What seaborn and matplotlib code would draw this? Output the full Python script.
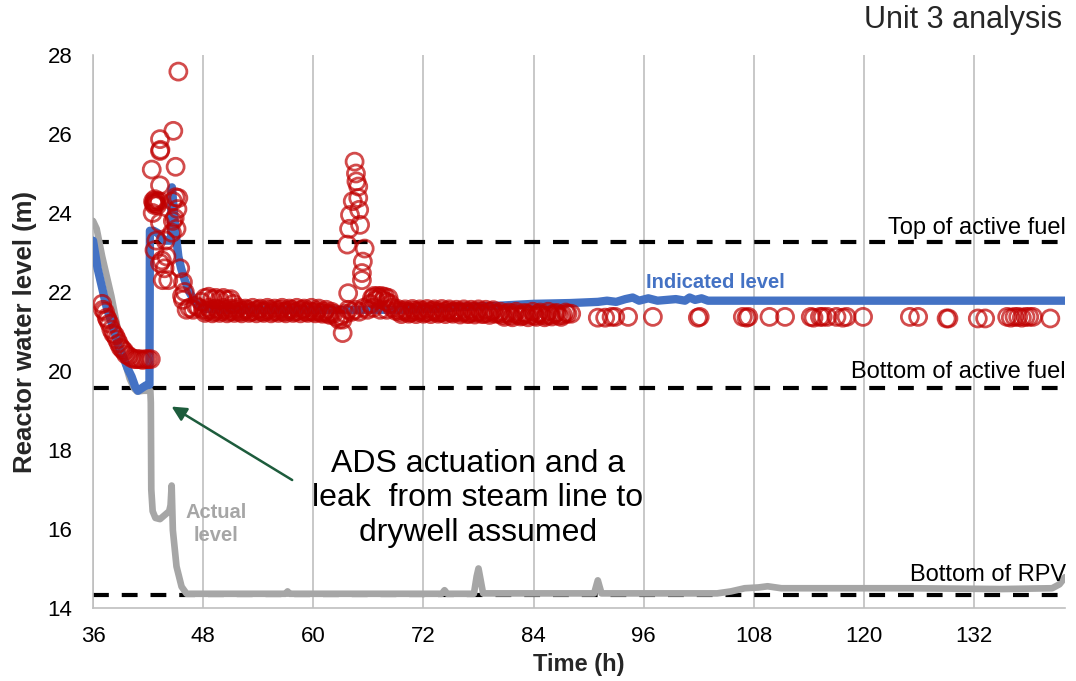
import matplotlib
matplotlib.use("Agg")
import matplotlib.pyplot as plt
import matplotlib.transforms as mtransforms
from matplotlib.ticker import MultipleLocator
import pandas as pd
import seaborn as sns

# ---------------- data ----------------
# Indicated level (blue)
blue_t = [36.0, 36.5, 36.9, 37.5, 38.2, 38.8, 39.3, 39.8, 40.2, 40.6, 40.9, 41.4, 41.8, 42.15,
          42.2, 42.6, 43.0, 43.4, 43.8, 44.2, 44.5, 44.55, 44.6, 44.8, 45.0, 45.3, 45.6, 46.0,
          46.5, 47.0, 47.5, 48.0, 50.0, 55.0, 60.0, 65.0, 70.0, 74.0, 76.0, 80.0, 84.0, 88.0,
          91.0, 92.0, 93.0, 94.0, 94.8, 95.5, 96.5, 97.5, 98.5, 99.5, 100.5, 101.0, 101.6,
          102.3, 103.0, 104.0, 110.0, 120.0, 130.0, 141.9]
blue_y = [23.3, 22.6, 22.2, 21.6, 21.1, 20.6, 20.35, 20.05, 19.86, 19.6, 19.5, 19.58, 19.64, 19.65,
          23.55, 23.55, 23.5, 23.4, 23.3, 23.3, 23.3, 24.6, 24.65, 24.1, 23.5, 22.9, 22.6, 22.3,
          22.0, 21.8, 21.65, 21.58, 21.55, 21.55, 21.55, 21.55, 21.55, 21.58, 21.62, 21.65, 21.7, 21.72,
          21.75, 21.78, 21.75, 21.82, 21.86, 21.78, 21.84, 21.78, 21.8, 21.82, 21.78, 21.86, 21.8,
          21.84, 21.78, 21.78, 21.78, 21.78, 21.78, 21.78]

# Actual level (gray)
gray_t = [36.0, 36.4, 37.0, 37.5, 38.0, 38.5, 39.0, 39.5, 40.0, 40.5, 40.8, 41.5, 42.25, 42.3,
          42.35, 42.5, 42.8, 43.3, 43.8, 44.3, 44.45, 44.57, 44.7, 45.1, 45.65, 46.2, 50.0, 57.0,
          57.2, 57.4, 68.0, 74.0, 74.3, 74.6, 77.5, 77.8, 78.0, 78.2, 78.5, 90.6, 91.0, 91.4,
          93.0, 104.0, 105.5, 107.0, 108.5, 109.5, 111.0, 115.0, 125.0, 135.0, 140.5, 141.3, 141.9]
gray_y = [23.8, 23.6, 22.9, 22.4, 21.9, 21.3, 20.7, 20.2, 19.8, 19.55, 19.48, 19.5, 19.5, 19.2,
          17.0, 16.45, 16.28, 16.25, 16.35, 16.45, 16.6, 17.1, 15.97, 15.05, 14.54, 14.36, 14.36, 14.36,
          14.42, 14.36, 14.36, 14.36, 14.45, 14.36, 14.36, 14.8, 15.0, 14.75, 14.37, 14.37, 14.7, 14.37,
          14.37, 14.37, 14.42, 14.5, 14.52, 14.55, 14.5, 14.5, 14.5, 14.48, 14.5, 14.6, 14.78]

# Measured points (red circles)
red_t = [
    # initial descent
    37.0, 37.1, 37.3, 37.5, 37.6, 37.8, 38.0, 38.2, 38.4, 38.6, 38.8, 39.0, 39.2, 39.4, 39.6,
    39.9, 40.2, 40.5, 40.8, 41.1, 41.4, 41.7, 42.0, 42.3,
    # spike after ADS
    42.4, 42.5, 42.55, 42.6, 42.7, 42.75, 42.8, 42.9, 43.0, 42.7, 42.9, 43.3, 43.3, 43.35, 43.3,
    43.2, 43.3, 43.3, 43.5, 43.6, 43.8, 44.2, 44.0, 43.9, 44.6, 44.7, 44.75, 45.0, 44.7, 45.0,
    45.3, 44.9, 45.2, 45.3, 45.1, 45.5, 45.8, 46.0, 45.7, 45.8, 46.2, 46.5, 46.9, 47.2, 47.5,
    # bump near 48-51 h
    47.8, 48.2, 48.6, 49.0, 49.4, 49.8, 50.2, 50.6, 51.0, 51.3,
    # band 48-62 h
    48.0, 48.4, 48.8, 49.2, 49.6, 50.0, 50.4, 50.8, 51.2, 51.6, 52.0, 52.4, 52.8, 53.2, 53.6,
    54.0, 54.4, 54.8, 55.2, 55.6, 56.0, 56.4, 56.8, 57.2, 57.6, 58.0, 58.4, 58.8, 59.2, 59.6,
    60.0, 60.4, 60.8, 61.2, 61.6, 62.0,
    48.2, 48.6, 49.0, 49.4, 49.8, 50.2, 50.6, 51.0, 51.4, 51.8, 52.2, 52.6, 53.0, 53.4, 53.8,
    54.2, 54.6, 55.0, 55.4, 55.8, 56.2, 56.6, 57.0, 57.4, 57.8, 58.2, 58.6, 59.0, 59.4, 59.8,
    60.2, 60.6, 61.0, 61.4, 61.8,
    # spread 62-64 h
    62.2, 62.5, 62.8, 63.0, 63.2, 63.2, 63.5, 63.8,
    # spike 64-66 h
    63.8, 63.7, 63.9, 64.0, 64.3, 64.5, 64.65, 64.7, 64.9, 64.9, 65.0, 65.1, 65.6, 65.4, 65.3, 65.3,
    64.2, 64.6, 65.0, 65.5, 65.9,
    # cluster 66-69 h
    66.2, 66.4, 66.6, 66.8, 67.0, 67.2, 67.4, 67.6, 67.8, 68.0, 68.2, 68.4, 68.6, 66.5, 67.3, 68.0,
    # band 69-80 h
    69.0, 69.4, 69.8, 70.2, 70.6, 71.0, 71.4, 71.8, 72.2, 72.6, 73.0, 73.4, 73.8, 74.2, 74.6,
    75.0, 75.4, 75.8, 76.2, 76.6, 77.0, 77.4, 77.8, 78.2, 78.6, 79.0, 79.4, 79.8,
    69.2, 69.6, 70.0, 70.4, 70.8, 71.2, 71.6, 72.0, 72.4, 72.8, 73.2, 73.6, 74.0, 74.4, 74.8,
    75.2, 75.6, 76.0, 76.4, 76.8, 77.2, 77.6, 78.0, 78.4, 78.8, 79.2, 79.6,
    # band 80-88 h
    80.2, 80.6, 81.0, 81.5, 81.9, 82.3, 82.8, 83.2, 83.6, 84.1, 84.5, 84.9, 85.4, 85.8, 86.3,
    86.7, 87.2, 87.7, 88.1,
    80.4, 80.8, 81.3, 81.7, 82.1, 82.6, 83.0, 83.4, 83.9, 84.3, 84.7, 85.2, 85.6, 86.0, 86.5,
    87.0, 87.5,
    # sparse later points
    91.0, 91.8, 92.5, 92.9, 94.3, 97.0, 101.9, 102.1, 106.8, 107.2, 107.4, 109.7, 111.4, 114.2,
    114.5, 115.2, 115.5, 116.0, 117.0, 117.7, 118.1, 119.9, 125.0, 125.9, 129.0, 129.2, 132.4,
    133.2, 135.6, 136.0, 136.4, 136.8, 137.2, 137.6, 138.0, 138.4, 140.3,
]
red_y = [
    21.7, 21.55, 21.5, 21.35, 21.3, 21.2, 21.05, 20.95, 20.9, 20.8, 20.7, 20.6, 20.55, 20.5, 20.42,
    20.38, 20.33, 20.3, 20.3, 20.3, 20.28, 20.3, 20.3, 20.3,
    25.1, 24.0, 24.3, 24.25, 24.2, 24.35, 24.25, 24.3, 24.2, 23.06, 23.3, 25.87, 25.57, 25.6, 24.7,
    24.3, 23.75, 22.73, 22.8, 22.3, 22.6, 22.3, 22.9, 23.3, 23.5, 23.8, 26.08, 25.17, 24.3, 24.4,
    24.38, 23.87, 24.1, 27.58, 23.6, 22.6, 22.25, 22.0, 21.9, 21.8, 21.55, 21.6, 21.55, 21.65, 21.6,
    21.75, 21.85, 21.88, 21.82, 21.85, 21.8, 21.85, 21.8, 21.82, 21.7,
    21.55, 21.52, 21.55, 21.5, 21.55, 21.52, 21.55, 21.5, 21.52, 21.55, 21.5, 21.52, 21.55, 21.5, 21.52,
    21.55, 21.5, 21.52, 21.55, 21.5, 21.52, 21.55, 21.5, 21.52, 21.55, 21.5, 21.52, 21.55, 21.5, 21.52,
    21.5, 21.52, 21.48, 21.5, 21.45, 21.5,
    21.47, 21.6, 21.46, 21.58, 21.47, 21.6, 21.46, 21.58, 21.47, 21.6, 21.46, 21.58, 21.47, 21.6, 21.46,
    21.58, 21.47, 21.6, 21.46, 21.58, 21.47, 21.6, 21.46, 21.58, 21.47, 21.6, 21.46, 21.58, 21.47, 21.6,
    21.46, 21.58, 21.45, 21.55, 21.42,
    21.45, 21.37, 21.3, 21.4, 21.3, 20.96, 21.45, 21.55,
    21.97, 23.2, 23.6, 23.95, 24.3, 25.3, 25.0, 24.8, 24.67, 24.38, 24.08, 23.7, 23.1, 22.77, 22.48, 22.3,
    21.5, 21.55, 21.5, 21.6, 21.55,
    21.7, 21.85, 21.9, 21.8, 21.9, 21.85, 21.9, 21.8, 21.88, 21.75, 21.85, 21.7, 21.6, 21.6, 21.55, 21.55,
    21.52, 21.5, 21.52, 21.5, 21.48, 21.52, 21.5, 21.52, 21.48, 21.5, 21.52, 21.5, 21.48, 21.5, 21.52,
    21.48, 21.5, 21.5, 21.48, 21.5, 21.45, 21.5, 21.48, 21.5, 21.45, 21.48, 21.5, 21.45,
    21.57, 21.44, 21.56, 21.45, 21.57, 21.44, 21.56, 21.45, 21.57, 21.44, 21.56, 21.45, 21.57, 21.44, 21.56,
    21.45, 21.55, 21.43, 21.56, 21.44, 21.55, 21.43, 21.56, 21.44, 21.55, 21.42, 21.54,
    21.45, 21.42, 21.45, 21.4, 21.45, 21.42, 21.4, 21.45, 21.42, 21.4, 21.45, 21.42, 21.4, 21.42, 21.45,
    21.4, 21.42, 21.45, 21.45,
    21.5, 21.37, 21.48, 21.36, 21.5, 21.38, 21.47, 21.36, 21.5, 21.37, 21.48, 21.36, 21.5, 21.38, 21.47,
    21.37, 21.48,
    21.35, 21.35, 21.37, 21.37, 21.37, 21.37, 21.35, 21.37, 21.37, 21.35, 21.37, 21.37, 21.37, 21.37,
    21.35, 21.37, 21.37, 21.37, 21.37, 21.35, 21.37, 21.37, 21.37, 21.37, 21.33, 21.33, 21.33,
    21.33, 21.37, 21.35, 21.37, 21.37, 21.35, 21.37, 21.37, 21.37, 21.33,
]

ref_levels = [23.27, 19.57, 14.33]
ref_labels = ["Top of active fuel", "Bottom of active fuel", "Bottom of RPV"]
ref_label_y = [23.62, 19.97, 14.84]

x_ticks = [36, 48, 60, 72, 84, 96, 108, 120, 132]
y_ticks = [14, 16, 18, 20, 22, 24, 26, 28]

# ---------------- plot ----------------
sns.set_theme(style="white")
plt.rcParams["font.family"] = ["Liberation Sans", "DejaVu Sans"]

fig = plt.figure(figsize=(10.76, 6.81), dpi=100)
ax = fig.add_axes([93 / 1076, 1 - 608 / 681, (1065 - 93) / 1076, (608 - 55) / 681])

for lvl in ref_levels:
    ax.axhline(lvl, color="black", lw=3, ls=(0, (3.8, 3.1)), dash_capstyle="butt", zorder=2)

gray_df = pd.DataFrame({"t": gray_t, "y": gray_y})
blue_df = pd.DataFrame({"t": blue_t, "y": blue_y})
red_df = pd.DataFrame({"t": red_t, "y": red_y})

sns.lineplot(data=gray_df, x="t", y="y", estimator=None, sort=False, color="#A6A6A6",
             lw=4.8, ax=ax, zorder=3, solid_capstyle="round", solid_joinstyle="round")
sns.lineplot(data=blue_df, x="t", y="y", estimator=None, sort=False, color="#4472C4",
             lw=6.0, ax=ax, zorder=4, solid_capstyle="round", solid_joinstyle="round")
sns.scatterplot(data=red_df, x="t", y="y", marker="o", s=150, ax=ax, zorder=5)
coll = ax.collections[-1]
coll.set_facecolor("none")
coll.set_edgecolor("#C00000")
coll.set_linewidth(2.0)
coll.set_alpha(0.7)

ax.set_xlim(36, 141.9)
ax.set_ylim(14, 28)
ax.set_xticks(x_ticks)
ax.xaxis.set_minor_locator(MultipleLocator(6))
ax.set_yticks(y_ticks)
ax.set_xticklabels([str(v) for v in x_ticks], fontsize=16)
ax.set_yticklabels([str(v) for v in y_ticks], fontsize=16)
ax.tick_params(axis="x", which="both", direction="out", length=4, width=1, color="#BFBFBF",
               pad=9, labelcolor="black")
ax.tick_params(axis="y", length=0, pad=15, labelcolor="black")

ax.grid(False)
ax.xaxis.grid(True, which="major", color="#BFBFBF", lw=1.2)
ax.set_axisbelow(True)
for s in ["top", "right"]:
    ax.spines[s].set_visible(False)
for s in ["left", "bottom"]:
    ax.spines[s].set_color("#BFBFBF")
    ax.spines[s].set_linewidth(1.2)

ax.set_xlabel("Time (h)", fontsize=17, fontweight="bold")
ax.set_ylabel("Reactor water level (m)", fontsize=18.5, fontweight="bold")
ax.xaxis.set_label_coords(0.5, -0.103)
ax.xaxis.label.set_va("center")
ax.yaxis.set_label_coords(-0.07, 0.5)
ax.yaxis.label.set_va("center")

trans = mtransforms.blended_transform_factory(ax.transAxes, ax.transData)
for lab, yy in zip(ref_labels, ref_label_y):
    ax.text(1.001, yy, lab, transform=trans, ha="right", va="center", fontsize=17, color="black")

ax.text(103.8, 22.25, "Indicated level", ha="center", va="center", fontsize=14.5,
        fontweight="bold", color="#4472C4")
ax.text(49.4, 16.13, "Actual\nlevel", ha="center", va="center", fontsize=14.5,
        fontweight="bold", color="#A6A6A6", linespacing=1.3)

ax.text(77.9, 16.78, "ADS actuation and a\nleak  from steam line to\ndrywell assumed",
        ha="center", va="center", fontsize=23, linespacing=1.2, color="black")
ax.annotate("", xy=(44.56, 19.1), xytext=(57.7, 17.24),
            arrowprops=dict(arrowstyle="-|>", color="#1D5C3C", lw=1.8, mutation_scale=22,
                            shrinkA=0, shrinkB=0))

fig.text(1062 / 1076, 1 - 20 / 681, "Unit 3 analysis", ha="right", va="center", fontsize=22)

fig.savefig("out.png", dpi=100)
